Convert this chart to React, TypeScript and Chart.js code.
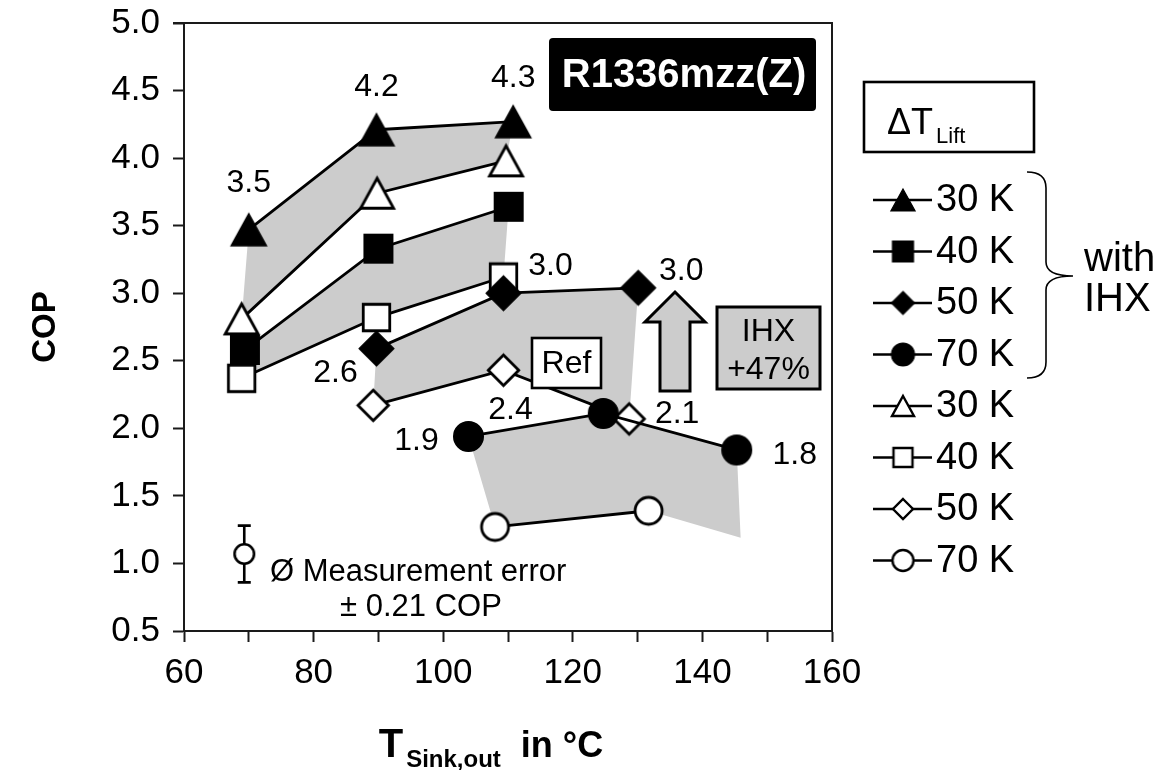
import React, { useEffect, useRef } from 'react';
import { Chart, registerables } from 'chart.js';

Chart.register(...registerables);

const FONT = '"Liberation Sans", Arial, Helvetica, sans-serif';
const INK = '#000000';
const BAND_GRAY = '#cccccc';

// Axis ranges and ticks
const X_MIN = 60;
const X_MAX = 160;
const X_TICK_STEP = 10;
const X_LABEL_STEP = 20;
const Y_MIN = 0.5;
const Y_MAX = 5.0;
const Y_TICK_STEP = 0.5;

// Sink outlet temperature (°C) and COP for each temperature lift, with internal heat exchanger
const T_IHX_30 = [70.0, 89.7, 110.8];
const COP_IHX_30 = [3.47, 4.21, 4.27];
const T_IHX_40 = [69.4, 90.0, 110.1];
const COP_IHX_40 = [2.58, 3.33, 3.64];
const T_IHX_50 = [89.7, 109.3, 130.1];
const COP_IHX_50 = [2.59, 3.0, 3.04];
const T_IHX_70 = [103.9, 124.7, 145.3];
const COP_IHX_70 = [1.94, 2.11, 1.84];

// Reference cycle without internal heat exchanger
const T_REF_30 = [68.9, 89.8, 109.7];
const COP_REF_30 = [2.81, 3.74, 3.98];
const T_REF_40 = [68.9, 89.7, 109.3];
const COP_REF_40 = [2.37, 2.82, 3.12];
const T_REF_50 = [89.2, 109.3, 128.7];
const COP_REF_50 = [2.17, 2.43, 2.07];
const T_REF_70 = [108.0, 131.7];
const COP_REF_70 = [1.27, 1.39];

// Lower corner of the shaded 70 K band at the highest sink temperature
const T_BAND_70_END = 145.9;
const COP_BAND_70_END = 1.19;

// Temperature lift labels
const LIFT_LABELS = ['30 K', '40 K', '50 K', '70 K'];

// Average measurement uncertainty marker
const ERR_T = 69.3;
const ERR_COP = 1.07;
const ERR_HALF = 0.21;

const REFRIGERANT = 'R1336mzz(Z)';

type Shape = 'triangle' | 'square' | 'diamond' | 'circle';

function makeMarker(shape: Shape, filled: boolean, size: number, lw: number): HTMLCanvasElement {
  const dim = Math.ceil(size * 1.15 + lw * 2 + 4);
  const c = document.createElement('canvas');
  c.width = dim;
  c.height = dim;
  const g = c.getContext('2d') as CanvasRenderingContext2D;
  const m = dim / 2;
  const h = size / 2;
  g.beginPath();
  if (shape === 'triangle') {
    g.moveTo(m, m - h);
    g.lineTo(m + h * 1.1, m + h);
    g.lineTo(m - h * 1.1, m + h);
    g.closePath();
  } else if (shape === 'square') {
    g.rect(m - h, m - h, size, size);
  } else if (shape === 'diamond') {
    g.moveTo(m, m - h);
    g.lineTo(m + h, m);
    g.lineTo(m, m + h);
    g.lineTo(m - h, m);
    g.closePath();
  } else {
    g.arc(m, m, h, 0, Math.PI * 2);
  }
  g.fillStyle = filled ? INK : '#ffffff';
  g.fill();
  g.lineWidth = lw;
  g.lineJoin = 'miter';
  g.strokeStyle = INK;
  g.stroke();
  return c;
}

// marker sizes: [filled, open]
const PLOT_MARK: Record<Shape, [number, number]> = {
  triangle: [32, 30],
  square: [28.5, 26.5],
  diamond: [34.5, 30.5],
  circle: [29.5, 27],
};
const LEGEND_MARK: Record<Shape, [number, number]> = {
  triangle: [22, 20],
  square: [21, 19],
  diamond: [23, 20],
  circle: [23, 21],
};

// value labels: which series / point, offset of the text from the marker
const VALUE_LABELS = [
  { series: 0, point: 0, dx: 0, dy: -47 },
  { series: 0, point: 1, dx: 0, dy: -43 },
  { series: 0, point: 2, dx: 0, dy: -43 },
  { series: 2, point: 0, dx: -41, dy: 25 },
  { series: 2, point: 1, dx: 47, dy: -27 },
  { series: 2, point: 2, dx: 43, dy: -17 },
  { series: 6, point: 1, dx: 7, dy: 40 },
  { series: 6, point: 2, dx: 48, dy: -5 },
  { series: 3, point: 0, dx: -52, dy: 5 },
  { series: 3, point: 2, dx: 58, dy: 5 },
];

function setFont(ctx: CanvasRenderingContext2D, size: number, bold = false) {
  ctx.font = `${bold ? 'bold ' : ''}${size}px ${FONT}`;
}

function drawText(
  ctx: CanvasRenderingContext2D,
  s: string,
  x: number,
  y: number,
  size: number,
  opts: { bold?: boolean; color?: string; align?: CanvasTextAlign; baseline?: CanvasTextBaseline } = {}
) {
  setFont(ctx, size, opts.bold);
  ctx.fillStyle = opts.color || INK;
  ctx.textAlign = opts.align || 'center';
  ctx.textBaseline = opts.baseline || 'middle';
  ctx.fillText(s, x, y);
}

export default function App() {
  const canvasRef = useRef<HTMLCanvasElement | null>(null);

  useEffect(() => {
    const canvas = canvasRef.current;
    if (!canvas) return;

    const toPoints = (xs: number[], ys: number[]) => xs.map((x, i) => ({ x, y: ys[i] }));

    const series: { label: string; xs: number[]; ys: number[]; shape: Shape; filled: boolean }[] = [
      { label: LIFT_LABELS[0], xs: T_IHX_30, ys: COP_IHX_30, shape: 'triangle', filled: true },
      { label: LIFT_LABELS[1], xs: T_IHX_40, ys: COP_IHX_40, shape: 'square', filled: true },
      { label: LIFT_LABELS[2], xs: T_IHX_50, ys: COP_IHX_50, shape: 'diamond', filled: true },
      { label: LIFT_LABELS[3], xs: T_IHX_70, ys: COP_IHX_70, shape: 'circle', filled: true },
      { label: LIFT_LABELS[0], xs: T_REF_30, ys: COP_REF_30, shape: 'triangle', filled: false },
      { label: LIFT_LABELS[1], xs: T_REF_40, ys: COP_REF_40, shape: 'square', filled: false },
      { label: LIFT_LABELS[2], xs: T_REF_50, ys: COP_REF_50, shape: 'diamond', filled: false },
      { label: LIFT_LABELS[3], xs: T_REF_70, ys: COP_REF_70, shape: 'circle', filled: false },
    ];

    const bands = [
      [...toPoints(T_IHX_30, COP_IHX_30), ...toPoints(T_REF_30, COP_REF_30).reverse()],
      [...toPoints(T_IHX_40, COP_IHX_40), ...toPoints(T_REF_40, COP_REF_40).reverse()],
      [...toPoints(T_IHX_50, COP_IHX_50), ...toPoints(T_REF_50, COP_REF_50).reverse()],
      [
        ...toPoints(T_IHX_70, COP_IHX_70),
        { x: T_BAND_70_END, y: COP_BAND_70_END },
        ...toPoints(T_REF_70, COP_REF_70).reverse(),
      ],
    ];

    const plotMarkers = series.map((s) => {
      const size = PLOT_MARK[s.shape][s.filled ? 0 : 1];
      return { img: makeMarker(s.shape, s.filled, size, s.filled ? 1.5 : 2.8), size };
    });
    const legendMarkers = series.map((s) =>
      makeMarker(s.shape, s.filled, LEGEND_MARK[s.shape][s.filled ? 0 : 1], s.filled ? 1.2 : 2.4)
    );
    const errMarker = makeMarker('circle', false, 19.5, 2.6);

    const bandDatasets = bands.map((pts, i) => ({
      type: 'line' as const,
      label: `band ${LIFT_LABELS[i]}`,
      data: pts,
      fill: 'shape' as const,
      backgroundColor: BAND_GRAY,
      borderColor: 'rgba(0,0,0,0)',
      borderWidth: 0,
      showLine: false,
      pointRadius: 0,
      pointHoverRadius: 0,
      tension: 0,
      order: 10,
    }));

    const seriesDatasets = series.map((s, i) => ({
      type: 'line' as const,
      label: s.label,
      data: toPoints(s.xs, s.ys),
      showLine: true,
      fill: false,
      borderColor: INK,
      borderWidth: 2.8,
      tension: 0,
      pointStyle: plotMarkers[i].img as any,
      pointRadius: plotMarkers[i].size / 2,
      pointHoverRadius: plotMarkers[i].size / 2,
      order: 1,
    }));

    const errorDataset = {
      type: 'scatter' as const,
      label: 'Measurement error',
      data: [{ x: ERR_T, y: ERR_COP }],
      pointStyle: errMarker as any,
      pointRadius: 11,
      pointHoverRadius: 11,
      order: 0,
    };

    const bandCount = bandDatasets.length;

    const framePlugin = {
      id: 'frame',
      afterDraw(chart: Chart) {
        const { ctx, chartArea: a } = chart;
        ctx.save();
        ctx.strokeStyle = '#1a1a1a';
        ctx.lineWidth = 2;
        ctx.beginPath();
        ctx.moveTo(a.left - 11, a.top);
        ctx.lineTo(a.right, a.top);
        ctx.lineTo(a.right, a.bottom);
        ctx.stroke();
        ctx.restore();
      },
    };

    const annotationPlugin = {
      id: 'annotations',
      beforeDatasetsDraw(chart: Chart) {
        const { ctx } = chart;
        const xs = chart.scales.x;
        const ys = chart.scales.y;
        const px = xs.getPixelForValue(ERR_T);
        const top = ys.getPixelForValue(ERR_COP + ERR_HALF);
        const bot = ys.getPixelForValue(ERR_COP - ERR_HALF);
        ctx.save();
        ctx.strokeStyle = INK;
        ctx.lineWidth = 2.6;
        ctx.beginPath();
        ctx.moveTo(px, top);
        ctx.lineTo(px, bot);
        ctx.moveTo(px - 6.5, top);
        ctx.lineTo(px + 6.5, top);
        ctx.moveTo(px - 6.5, bot);
        ctx.lineTo(px + 6.5, bot);
        ctx.stroke();
        ctx.restore();
      },
      afterDatasetsDraw(chart: Chart) {
        const { ctx } = chart;
        ctx.save();

        // value labels taken from the plotted points
        VALUE_LABELS.forEach((l) => {
          const el = chart.getDatasetMeta(bandCount + l.series).data[l.point] as any;
          const v = (chart.data.datasets[bandCount + l.series].data[l.point] as any).y as number;
          drawText(ctx, v.toFixed(1), el.x + l.dx, el.y + l.dy, 32);
        });

        // refrigerant badge
        ctx.fillStyle = INK;
        ctx.beginPath();
        (ctx as any).roundRect ? (ctx as any).roundRect(549, 38, 267, 73, 4) : ctx.rect(549, 38, 267, 73);
        ctx.fill();
        drawText(ctx, REFRIGERANT, 684, 76, 40, { bold: true, color: '#ffffff' });

        // "Ref" tag
        ctx.fillStyle = '#ffffff';
        ctx.fillRect(532, 338, 69, 50);
        ctx.lineWidth = 2.6;
        ctx.strokeStyle = INK;
        ctx.strokeRect(532, 338, 69, 50);
        drawText(ctx, 'Ref', 566.5, 364, 32);

        // improvement arrow
        ctx.beginPath();
        ctx.moveTo(675, 292);
        ctx.lineTo(705, 322);
        ctx.lineTo(690, 322);
        ctx.lineTo(690, 391);
        ctx.lineTo(660, 391);
        ctx.lineTo(660, 322);
        ctx.lineTo(645, 322);
        ctx.closePath();
        ctx.fillStyle = BAND_GRAY;
        ctx.fill();
        ctx.lineWidth = 3;
        ctx.lineJoin = 'miter';
        ctx.stroke();

        // IHX gain box, gain computed at the highest 50 K point
        const gain = Math.round((COP_IHX_50[2] / COP_REF_50[2] - 1) * 100);
        ctx.fillStyle = BAND_GRAY;
        ctx.fillRect(717, 307, 103, 82);
        ctx.strokeRect(717, 307, 103, 82);
        drawText(ctx, 'IHX', 768.5, 332, 32);
        drawText(ctx, `+${gain}%`, 768.5, 370, 32);

        // measurement uncertainty note
        drawText(ctx, 'Ø Measurement error', 270, 572, 31, { align: 'left' });
        drawText(ctx, `± ${ERR_HALF.toFixed(2)} COP`, 421, 607, 31);

        // x axis title with subscript
        setFont(ctx, 40, true);
        const wT = ctx.measureText('T').width;
        setFont(ctx, 24, true);
        const wSub = ctx.measureText('Sink,out').width;
        setFont(ctx, 36, true);
        const wRest = ctx.measureText('in °C').width;
        const gap = 20;
        const total = wT + 3 + wSub + gap + wRest;
        let tx = 491 - total / 2;
        drawText(ctx, 'T', tx, 757, 40, { bold: true, align: 'left', baseline: 'alphabetic' });
        tx += wT + 3;
        drawText(ctx, 'Sink,out', tx, 767, 24, { bold: true, align: 'left', baseline: 'alphabetic' });
        tx += wSub + gap;
        drawText(ctx, 'in °C', tx, 757, 36, { bold: true, align: 'left', baseline: 'alphabetic' });

        // legend title box
        ctx.lineWidth = 2.6;
        ctx.strokeStyle = INK;
        ctx.strokeRect(864, 82, 170, 70);
        drawText(ctx, 'ΔT', 887, 134, 36, { align: 'left', baseline: 'alphabetic' });
        setFont(ctx, 36);
        const wDT = ctx.measureText('ΔT').width;
        drawText(ctx, 'Lift', 887 + wDT + 3, 143, 22, { align: 'left', baseline: 'alphabetic' });

        // legend rows
        const row0 = 200;
        const rowStep = 51.5;
        series.forEach((s, i) => {
          const y = row0 + i * rowStep;
          ctx.strokeStyle = INK;
          ctx.lineWidth = 2.6;
          ctx.beginPath();
          ctx.moveTo(873, y);
          ctx.lineTo(932, y);
          ctx.stroke();
          const img = legendMarkers[i];
          ctx.drawImage(img, 903 - img.width / 2, y - img.height / 2);
          drawText(ctx, s.label, 936, y + 1, 38, { align: 'left' });
        });

        // brace grouping the IHX series
        ctx.strokeStyle = INK;
        ctx.lineWidth = 1.6;
        ctx.beginPath();
        ctx.moveTo(1027, 172);
        ctx.quadraticCurveTo(1046, 172, 1046, 188);
        ctx.lineTo(1046, 262);
        ctx.quadraticCurveTo(1046, 276, 1073, 276);
        ctx.quadraticCurveTo(1046, 276, 1046, 290);
        ctx.lineTo(1046, 362);
        ctx.quadraticCurveTo(1046, 378, 1027, 378);
        ctx.stroke();
        drawText(ctx, 'with', 1084, 260, 40, { align: 'left' });
        drawText(ctx, 'IHX', 1084, 300, 40, { align: 'left' });

        ctx.restore();
      },
    };

    const chart = new Chart(canvas, {
      type: 'scatter',
      data: { datasets: [...bandDatasets, ...seriesDatasets, errorDataset] as any },
      options: {
        animation: false,
        responsive: false,
        devicePixelRatio: 1,
        events: [],
        layout: { padding: { left: 0, right: 338, top: 23, bottom: 0 } },
        plugins: {
          legend: { display: false },
          tooltip: { enabled: false },
          filler: { drawTime: 'beforeDatasetsDraw' },
        } as any,
        scales: {
          x: {
            type: 'linear',
            min: X_MIN,
            max: X_MAX,
            afterFit: (s: any) => {
              s.height = 139;
              s.paddingLeft = 0;
              s.paddingRight = 0;
            },
            ticks: {
              stepSize: X_TICK_STEP,
              autoSkip: false,
              maxRotation: 0,
              callback: (v: any) => (Number(v) % X_LABEL_STEP === 0 ? String(v) : ''),
              font: { family: FONT, size: 35 },
              color: INK,
              padding: 10,
            },
            grid: {
              drawOnChartArea: false,
              drawTicks: true,
              tickLength: 11,
              tickWidth: 2,
              tickColor: '#1a1a1a',
            },
            border: { display: true, color: '#1a1a1a', width: 2 },
          },
          y: {
            type: 'linear',
            min: Y_MIN,
            max: Y_MAX,
            afterFit: (s: any) => {
              s.width = 184;
              s.paddingTop = 0;
              s.paddingBottom = 0;
            },
            ticks: {
              stepSize: Y_TICK_STEP,
              autoSkip: false,
              callback: (v: any) => Number(v).toFixed(1),
              font: { family: FONT, size: 35 },
              color: INK,
              padding: 13,
            },
            grid: {
              drawOnChartArea: false,
              drawTicks: true,
              tickLength: 11,
              tickWidth: 2,
              tickColor: '#1a1a1a',
            },
            border: { display: true, color: '#1a1a1a', width: 2 },
            title: {
              display: true,
              text: 'COP',
              font: { family: FONT, size: 33, weight: 'bold' },
              color: INK,
              padding: { top: 26, bottom: 0 },
            },
          },
        },
      },
      plugins: [framePlugin, annotationPlugin],
    });

    return () => {
      chart.destroy();
    };
  }, []);

  return (
    <div style={{ position: 'fixed', left: 0, top: 0, width: 1170, height: 770, background: '#ffffff' }}>
      <canvas ref={canvasRef} width={1170} height={770} style={{ display: 'block', width: 1170, height: 770 }} />
    </div>
  );
}
